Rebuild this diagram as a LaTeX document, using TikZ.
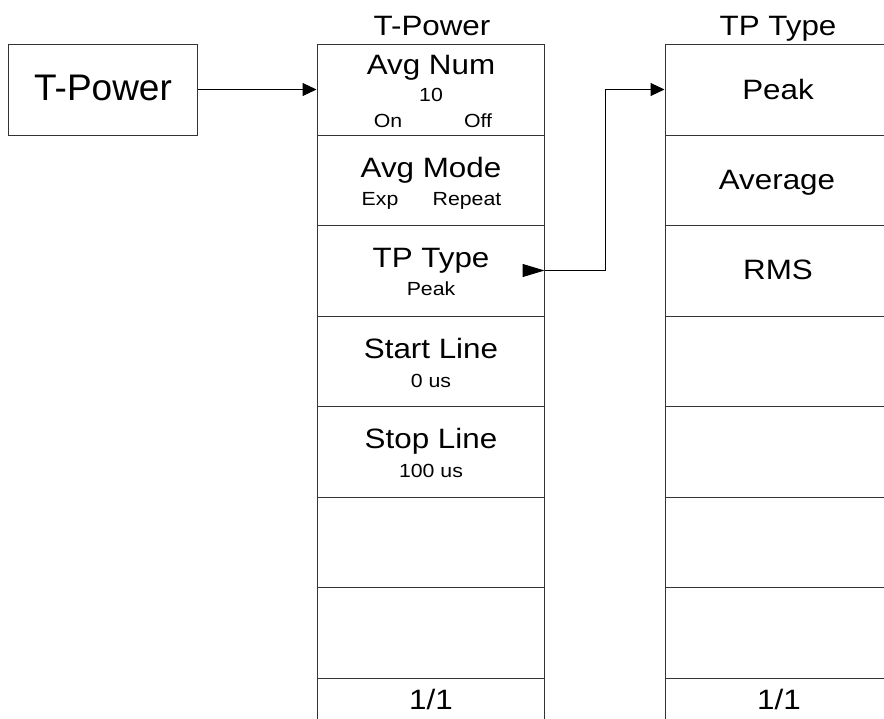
\documentclass[tikz,border=0pt]{standalone}
\usepackage{fontspec}
\setmainfont{Liberation Sans}
\newfontfamily\colfont[FakeStretch=1.12]{Liberation Sans}
\usetikzlibrary{arrows.meta,fit}
\begin{document}
\begin{tikzpicture}[x=1pt,y=-1pt,
  frame/.style={draw=black!80, line width=1pt, inner sep=0pt},
  bigtxt/.style={font=\colfont\fontsize{28}{30}\selectfont, anchor=base, inner sep=0pt},
  smalltxt/.style={font=\colfont\fontsize{19}{21}\selectfont, anchor=base, inner sep=0pt},
  arr/.style={line width=1pt, -{Triangle[length=14pt,width=13pt]}},
  innerarr/.style={line width=1pt, -{Triangle[length=22pt,width=13pt]}}]
\useasboundingbox (0,0) rectangle (884,718);
\fill[white] (0,0) rectangle (884,718);

% left box
\node[frame, fit={(8,44) (197,135)}] (lb) {};
\node[anchor=base, inner sep=0pt, font=\fontsize{37}{40}\selectfont] (lbt) at (103,100.7) {T-Power};

% titles
\node[bigtxt] (tm) at (432,35) {T-Power};
\node[bigtxt] (tr) at (778,35) {TP Type};

% columns
\foreach \i/\t/\b in {1/44/135,2/135/225,3/225/316,4/316/406,5/406/497,6/497/587,7/587/678,8/678/740}{
  \node[frame, fit={(317,\t) (544,\b)}] (m\i) {};
  \node[frame, fit={(665,\t) (900,\b)}] (r\i) {};
}

% middle column texts
\node[bigtxt] (a1) at (431,74) {Avg Num};
\node[smalltxt] (a1v) at (431,101.5) {10};
\node[smalltxt] (a1on) at (388,127) {On};
\node[smalltxt] (a1off) at (478,127) {Off};
\node[bigtxt] (a2) at (431,177) {Avg Mode};
\node[smalltxt] (a2e) at (380,205) {Exp};
\node[smalltxt] (a2r) at (467,205) {Repeat};
\node[bigtxt] (a3) at (431,267) {TP Type};
\node[smalltxt] (a3v) at (431,295) {Peak};
\node[bigtxt] (a4) at (431,358) {Start Line};
\node[smalltxt] (a4v) at (431,387) {0 us};
\node[bigtxt] (a5) at (431,448) {Stop Line};
\node[smalltxt] (a5v) at (431,477) {100 us};
\node[bigtxt] (a8) at (431,709) {1/1};

% right column texts
\node[bigtxt] (b1) at (778,99) {Peak};
\node[bigtxt] (b2) at (777,189) {Average};
\node[bigtxt] (b3) at (778,279) {RMS};
\node[bigtxt] (b8) at (779,709) {1/1};

% connectors
\draw[arr] (lb.east) -- (lb.east -| m1.west);
\draw[innerarr] ([xshift=-22pt]m3.east) -- (m3.east);
\draw[arr] (m3.east) -- ++(61,0) |- (r1.west);
\end{tikzpicture}
\end{document}
